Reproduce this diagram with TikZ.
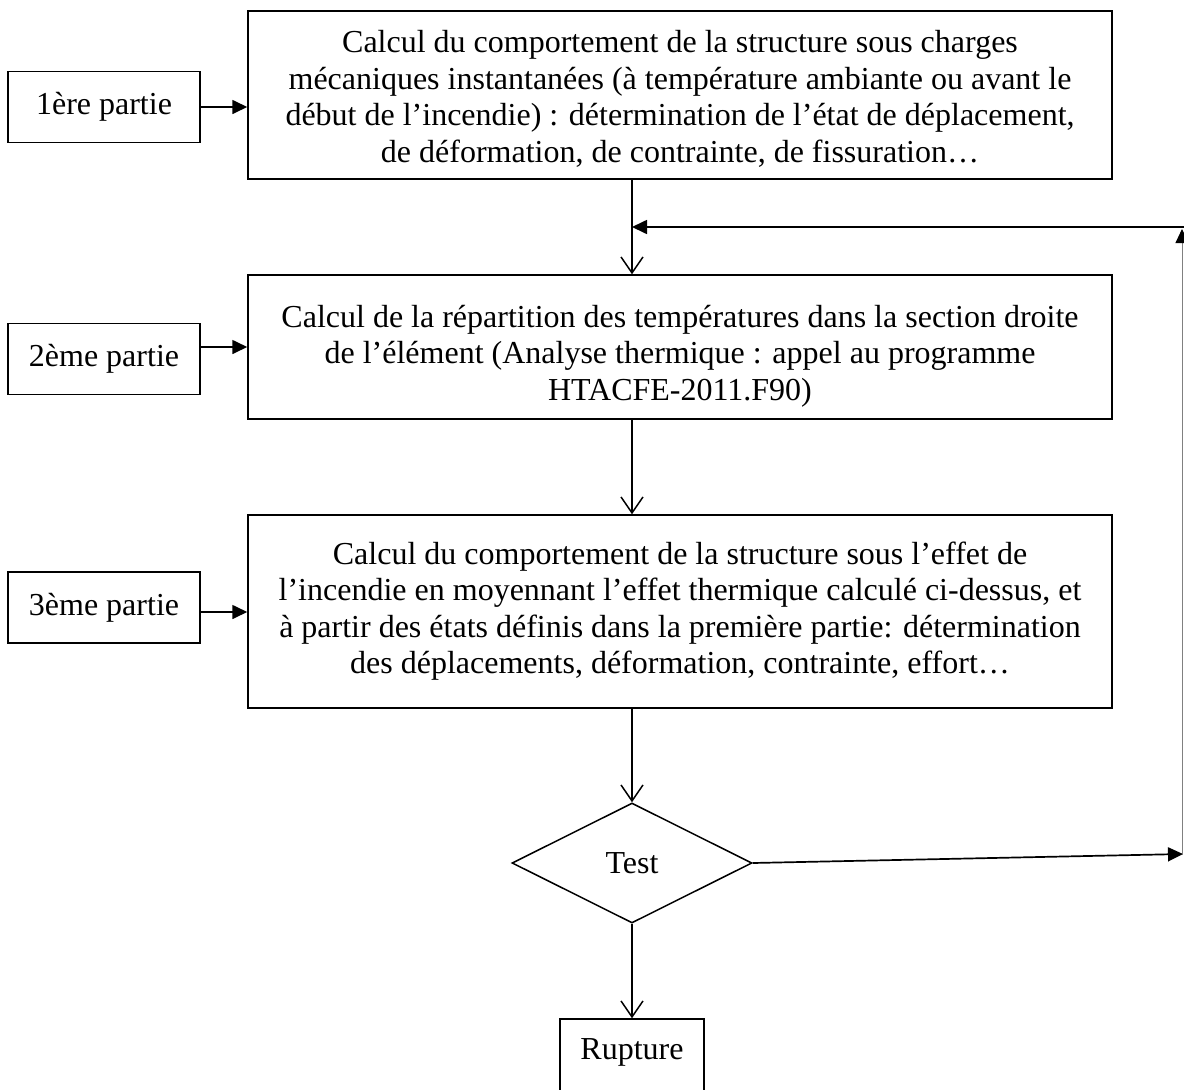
\documentclass[tikz,border=0pt]{standalone}
\usepackage{fontspec}
\setmainfont{Liberation Serif}
\usetikzlibrary{shapes.geometric,arrows.meta}
\begin{document}
\begin{tikzpicture}[x=1pt,y=-1pt,
  box/.style={draw,line width=1.5pt,inner sep=0pt,minimum width=#1},
  txt/.style={align=center,inner sep=0pt,font=\fontsize{32}{36.5}\selectfont},
  side/.style={draw,line width=1.5pt,inner sep=0pt,minimum width=192pt,minimum height=71pt,font=\fontsize{32}{37}\selectfont},
  filled/.style={line width=1.7pt,-{Triangle[length=15pt,width=14pt]}},
  openv/.style={line width=1.5pt,-{Straight Barb[length=16pt,width=22pt,line width=1.5pt]}}]
\clip (0,0) rectangle (1184,1090);
\fill[white] (0,0) rectangle (1184,1090);
% main boxes
\node[box=864pt,minimum height=168pt] (b1) at (680,95) {};
\node[txt] (t1) at (680,99) {Calcul du comportement de la structure sous charges\\ mécaniques instantanées (à température ambiante ou avant le\\ début de l’incendie) : détermination de l’état de déplacement,\\ de déformation, de contrainte, de fissuration…};
\node[box=864pt,minimum height=144pt] (b2) at (680,347) {};
\node[txt] (t2) at (680,356) {Calcul de la répartition des températures dans la section droite\\ de l’élément (Analyse thermique : appel au programme\\ HTACFE-2011.F90)};
\node[box=864pt,minimum height=193pt] (b3) at (680,611.5) {};
\node[txt] (t3) at (680,611) {Calcul du comportement de la structure sous l’effet de\\ l’incendie en moyennant l’effet thermique calculé ci-dessus, et\\ à partir des états définis dans la première partie: détermination\\ des déplacements, déformation, contrainte, effort…};
% side boxes
\node[side] (p1) at (104,107) {1ère partie};
\node[side] (p2) at (104,359) {2ème partie};
\node[side] (p3) at (104,607.5) {3ème partie};
% test and rupture
\node[draw,diamond,line width=1.5pt,inner sep=0pt,minimum width=240pt,minimum height=120pt,aspect=2,font=\fontsize{32}{37}\selectfont] (test) at (632,863) {Test};
\node[box=144pt,minimum height=80pt] (rup) at (632,1059) {};
\node[txt] (trup) at (632,1052) {Rupture};
% side arrows
\draw[filled] (p1.east |- 0,107) -- (b1.west |- 0,107);
\draw[filled] (p2.east |- 0,347) -- (b2.west |- 0,347);
\draw[filled] (p3.east |- 0,612) -- (b3.west |- 0,612);
% down arrows
\coordinate (j) at (632,227);
\draw[openv] (b1.south -| j) -- (b2.north -| j);
\draw[openv] (b2.south -| j) -- (b3.north -| j);
\draw[openv] (b3.south -| j) -- (test.north);
\draw[openv] (test.south) -- (rup.north);
% feedback loop
\coordinate (c1) at (1183,854);
\coordinate (c2) at (1182,229);
\coordinate (c3) at (1184,227);
\coordinate (c4) at (1182,855);
\draw[filled] (test.east) -- (c1);
\draw[gray,line width=1pt,-{Triangle[length=14pt,width=13pt,fill=black,color=black]}] (c4) -- (c2);
\draw[filled] (c3) -- (j);
\end{tikzpicture}
\end{document}
